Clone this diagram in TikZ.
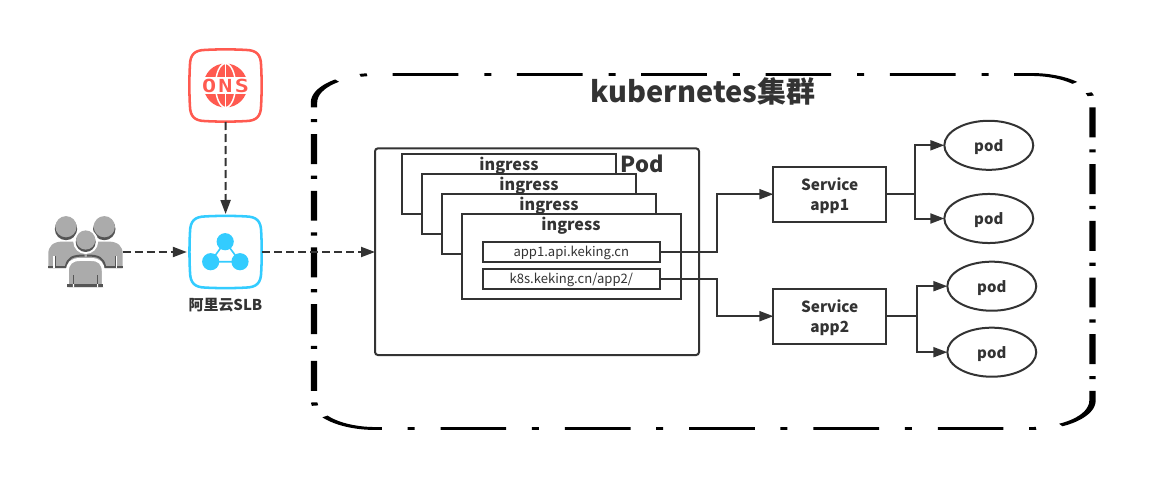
\documentclass[tikz,border=0pt]{standalone}
\usepackage{fontspec}
\setmainfont{Noto Sans CJK SC}
\newfontfamily\iconfont[LetterSpace=10]{DejaVu Sans Mono}
\usetikzlibrary{arrows.meta,calc,shapes.geometric}
\definecolor{ink}{HTML}{333333}
\definecolor{dnsred}{HTML}{FF5A50}
\definecolor{slbblue}{HTML}{33CCFF}
\definecolor{usergray}{HTML}{ABABAB}
\definecolor{userdark}{HTML}{555555}
\tikzset{
  x=.75pt,y=-.75pt,
  every node/.style={inner sep=0pt,outer sep=0pt,text=ink},
  conn/.style={draw=ink,line width=1.5pt,-{Triangle[length=10.5pt,width=7.5pt]}},
  dashconn/.style={conn,dash pattern=on 6pt off 3pt},
  boxn/.style={draw=ink,line width=1.5pt,fill=white,rectangle,align=center},
  podn/.style={draw=ink,line width=1.5pt,fill=white,ellipse,minimum width=66.7pt,minimum height=36.8pt,font=\bfseries\fontsize{11.2}{14}\selectfont,text height=10pt,text depth=.4pt},
  svcn/.style={boxn,minimum width=84.5pt,minimum height=41pt,font=\bfseries\fontsize{11.5}{15}\selectfont,text depth=0pt},
  ingn/.style={boxn,minimum width=160.7pt,minimum height=45pt},
  ingt/.style={font=\bfseries\fontsize{12.1}{15}\selectfont},
  urln/.style={boxn,minimum width=133pt,minimum height=15.2pt,font=\fontsize{9.8}{12}\selectfont,text height=7.5pt,text depth=.5pt},
  ghost/.style={minimum width=54pt,minimum height=54pt},
  squircle/.style={line width=1.9pt,fill=white,line join=round},
  userbody/.style={fill=usergray,draw=none},
  notch/.style={draw=userdark,line width=.6pt},
}
\newcommand{\squirclepath}[3]{%
 \path[squircle,draw=#3,shift={(#1,#2)}]
  (-20,-35.6) .. controls (-7,-36.3) and (7,-36.3) .. (20,-35.6)
  .. controls (31,-35.4) and (35.4,-31) .. (35.6,-20)
  .. controls (36.3,-7) and (36.3,7) .. (35.6,20)
  .. controls (35.4,31) and (31,35.4) .. (20,35.6)
  .. controls (7,36.3) and (-7,36.3) .. (-20,35.6)
  .. controls (-31,35.4) and (-35.4,31) .. (-35.6,20)
  .. controls (-36.3,7) and (-36.3,-7) .. (-35.6,-20)
  .. controls (-35.4,-31) and (-31,-35.4) .. (-20,-35.6) -- cycle;}
\begin{document}
\begin{tikzpicture}
\useasboundingbox[fill=white] (0,0) rectangle (1157,492);

% cluster border: a rounded rectangle stroked under a vertical squeeze
\begin{scope}[transform canvas={yscale=.456}]
 \draw[black,line width=4.8pt,dash pattern=on 49.28pt off 19.5pt on 5.25pt off 19.2pt,rounded corners=46pt]
  (1092.5,{400.4/.456}) -- (1092.5,{428.5/.456}) -- (314,{428.5/.456})
  -- (314,{74.5/.456}) -- (1092.5,{74.5/.456}) -- (1092.5,{400.4/.456});
\end{scope}
\node[font=\bfseries\fontsize{21.7}{26}\selectfont] (title) at (703,91) {kubernetes集群};

% DNS icon
\squirclepath{225.5}{85.5}{dnsred}
\node[ghost] (dns) at (225.5,85.5) {};
\fill[dnsred] (225.5,85.5) circle (22);
\draw[white,line width=1.1pt] (225.5,85.5) ellipse (10 and 22);
\draw[white,line width=1.1pt] (225.5,63.5) -- (225.5,107.5);
\fill[white] (200,77.5) rectangle (251,94.5);
\node[font=\iconfont\bfseries\fontsize{13.5}{15}\selectfont,text=dnsred] (dnstext) at (225.5,86) {\scalebox{1.3}[1]{ONS}};

% SLB icon
\squirclepath{225.6}{252}{slbblue}
\node[ghost] (slb) at (225.6,252) {};
\coordinate (sa) at (225.2,241.7);
\coordinate (sb) at (210.7,261.7);
\coordinate (sc) at (240,261.7);
\draw[slbblue,line width=1.2pt] (sa) -- (sb) -- (sc) -- cycle;
\fill[slbblue] (sa) circle (8.6) (sb) circle (8.6) (sc) circle (8.6);
\node[font=\bfseries\fontsize{11.2}{14}\selectfont] (slblabel) at (225.5,305.5) {阿里云SLB};

% users icon
\node[minimum width=55.8pt,minimum height=47pt] (users) at (85.5,256) {};
\fill[userbody] (48.3,268.3) -- (48.3,254) .. controls (48.3,246) and (53,242) .. (62,241.5)
  -- (109,241.5) .. controls (118,242) and (122.7,246) .. (122.7,254) -- (122.7,268.3) -- cycle;
\fill[userdark] (48.3,265.5) rectangle (122.7,268.3);
\fill[userdark] (66,229) circle (11.2);
\fill[userdark] (104.3,229) circle (11.2);
\fill[usergray] (66,226.7) circle (10.6);
\fill[usergray] (104.3,226.7) circle (10.6);
\draw[white,line width=.8pt] (54,256) -- (54,268.3) (116.6,256) -- (116.6,268.3);
\draw[notch] (55,256) -- (55,265.5) (115.6,256) -- (115.6,265.5);
\fill[white] (85.7,241.5) circle (12.5);
\fill[userdark] (85.7,242) circle (10);
\fill[usergray] (85.7,240) circle (9.6);
\draw[userdark,line width=1.5pt] (66,266) .. controls (68,258) and (72,255.5) .. (84.5,255.5)
   (87,255.5) .. controls (99,255.5) and (103,258) .. (105,266);
\path[userbody,draw=white,line width=2.2pt] (67.3,287.3) -- (67.3,272)
  .. controls (67.3,263) and (72,259.5) .. (80,259.5) -- (91,259.5)
  .. controls (99,259.5) and (103.3,263) .. (103.3,272) -- (103.3,287.3);
\fill[userdark] (67.3,283.8) rectangle (103.3,287.3);
\fill[white] (72.8,283.8) rectangle (74,287.3) (97,283.8) rectangle (98.2,287.3);
\draw[notch] (73.4,275) -- (73.4,283.8) (97.6,275) -- (97.6,283.8);

% pod box and ingress stack
\node[boxn,rounded corners=2.2pt,minimum width=243pt,minimum height=155pt] (pod) at (537,251.7) {};
\node[ingn] (ing1) at (508.9,184) {};
\node[ingt] (ing1t) at (509,165.7) {ingress};
\node[ingn] (ing2) at (528.9,204) {};
\node[ingt] (ing2t) at (529,185.7) {ingress};
\node[ingn] (ing3) at (548.9,224) {};
\node[ingt] (ing3t) at (549,205.7) {ingress};
\node[boxn,minimum width=164.4pt,minimum height=63.8pt] (ing4) at (571.3,256.5) {};
\node[ingt] (ing4t) at (571,225.5) {ingress};
\node[font=\bfseries\fontsize{16.5}{20}\selectfont] (podlabel) at (642.3,163.5) {Pod};
\node[urln] (app1) at (571.3,252) {app1.api.keking.cn};
\node[urln] (k8s) at (571.3,279) {k8s.keking.cn/app2/};

% services and pods
\node[svcn] (svc1) at (829.7,194.2) {Service\\app1};
\node[svcn] (svc2) at (829.7,316.2) {Service\\app2};
\node[podn] (p1) at (988.8,145.3) {pod};
\node[podn] (p2) at (988.8,218.5) {pod};
\node[podn] (p3) at (991.8,286.2) {pod};
\node[podn] (p4) at (991.8,352.2) {pod};

% connectors
\coordinate (ax) at (716.7,0);
\coordinate (b1) at (915,0);
\coordinate (b2) at (916.7,0);
\draw[dashconn] (dns.south |- 0,122) -- (slb.north |- 0,214);
\draw[dashconn] (users.east |- slb.west) -- ([xshift=-2pt]slb.west -| 189.5,0);
\draw[dashconn] (slb.east -| 262,0) -- (slb.east -| pod.west);
\draw[conn] (app1.east) -| (ax |- svc1.west) -- (svc1.west);
\draw[conn] (k8s.east) -| (ax |- svc2.west) -- (svc2.west);
\draw[conn] (svc1.east) -| (b1 |- p1.west) -- (p1.west);
\draw[conn] (svc1.east) -| (b1 |- p2.west) -- (p2.west);
\draw[conn] (svc2.east) -| (b2 |- p3.west) -- (p3.west);
\draw[conn] (svc2.east) -| (b2 |- p4.west) -- (p4.west);
\end{tikzpicture}
\end{document}
